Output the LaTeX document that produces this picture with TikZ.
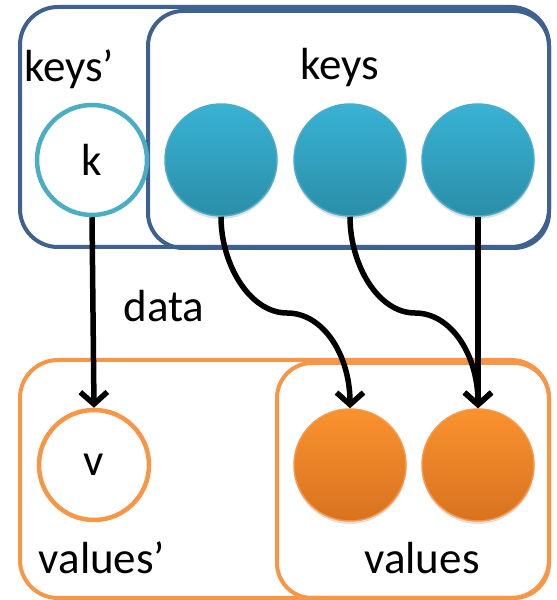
\documentclass[tikz,border=0pt]{standalone}
\usepackage{fontspec}
\setmainfont{Carlito}
\usetikzlibrary{arrows.meta,shadows}
\definecolor{boxblue}{HTML}{3E6190}
\definecolor{boxorange}{HTML}{F79646}
\definecolor{ringblue}{HTML}{4BACC6}
\definecolor{balltop}{HTML}{38B2D4}
\definecolor{ballbot}{HTML}{2B8EA8}
\definecolor{orgtop}{HTML}{FA922F}
\definecolor{orgbot}{HTML}{D8721F}
\begin{document}
\begin{tikzpicture}[x=1pt,y=1pt,
  font=\fontsize{45}{50}\selectfont,
  keygroup/.style={draw=boxblue, line width=4pt},
  valgroup/.style={draw=boxorange, line width=4pt},
  ring/.style={circle, minimum size=110pt, inner sep=0pt, line width=4.5pt, fill=white},
  ball/.style={circle, minimum size=112pt, inner sep=0pt, line width=1.5pt,
    drop shadow={shadow xshift=0pt, shadow yshift=-3pt, opacity=0.25}},
  keyball/.style={ball, draw=ringblue, top color=balltop, bottom color=ballbot},
  valball/.style={ball, draw=boxorange, top color=orgtop, bottom color=orgbot},
  label/.style={anchor=base, inner sep=0pt},
  link/.style={line width=5.5pt, black,
    -{Straight Barb[length=12pt, width=27pt, line width=5.5pt]}}
]
\useasboundingbox (0,0) rectangle (557,600);

% group outlines
\draw[keygroup, rounded corners=38pt] (20,593) rectangle (549,353);
\draw[keygroup, rounded corners=35pt] (148,589) rectangle (549,352);
\draw[valgroup, rounded corners=38pt] (20,240) rectangle (549,2);
\draw[valgroup, rounded corners=35pt] (277,237) rectangle (549,2);

% group labels
\node[label] (lkeysp) at (69,518) {keys’};
\node[label] (lkeys) at (340,520) {keys};
\node[label] (lvalsp) at (102,27) {values’};
\node[label] (lvals) at (422,27) {values};
\node[label] (ldata) at (164,278) {data};

% keys
\node[ring, draw=ringblue] (k) at (92,440) {k};
\node[keyball] (b1) at (221,440) {};
\node[keyball] (b2) at (350,440) {};
\node[keyball] (b3) at (478,440) {};

% values
\node[ring, draw=boxorange] (v) at (94,135) {v};
\node[valball] (o1) at (350,135) {};
\node[valball] (o2) at (478,135) {};

% bend points of the curved links
\coordinate (m1) at (287,287);
\coordinate (m2) at (415,287);

% links
\draw[link] (k.south) -- (v.north);
\draw[link] (b1.south) .. controls +(0,-48) and +(-37,0) .. (m1)
  .. controls +(37,0) and +(0,52) .. (o1.north);
\draw[link] (b2.south) .. controls +(0,-48) and +(-37,0) .. (m2)
  .. controls +(37,0) and +(0,52) .. (o2.north);
\draw[link] (b3.south) -- (o2.north);
\end{tikzpicture}
\end{document}
